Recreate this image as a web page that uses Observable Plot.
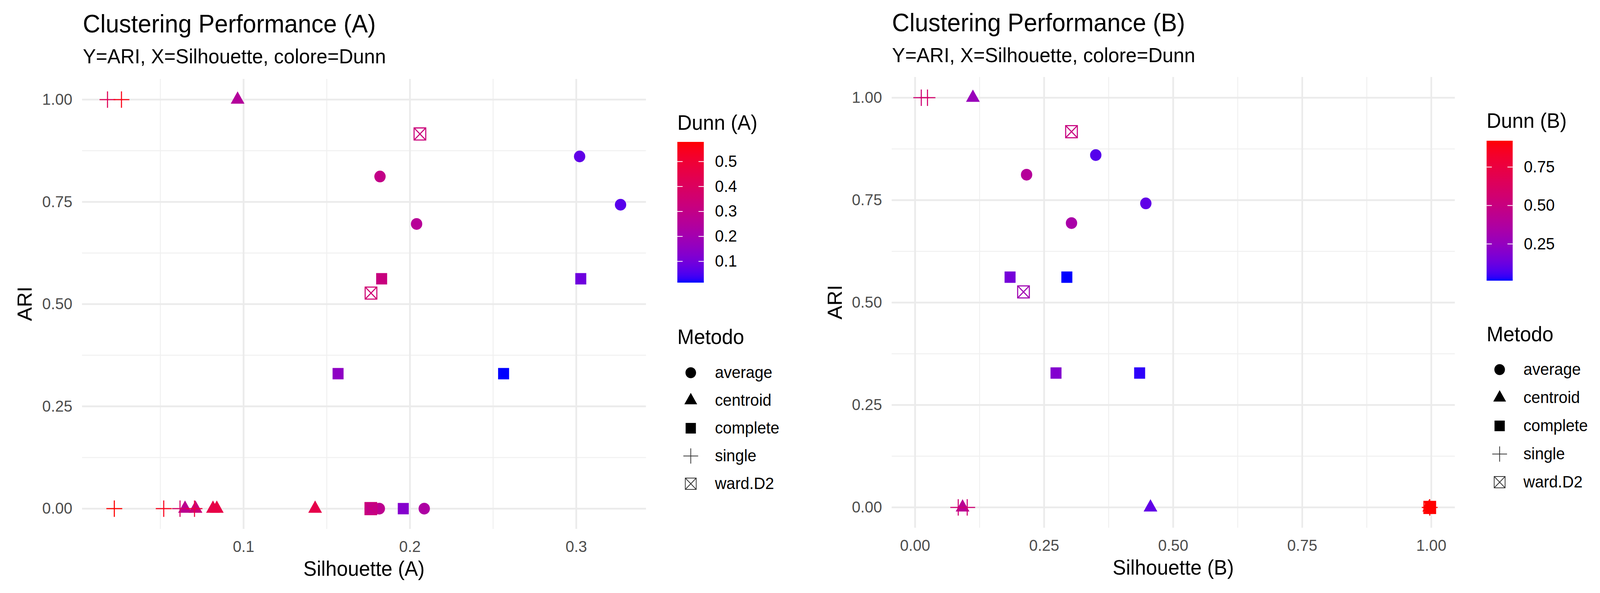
<!DOCTYPE html>
<html>
<head>
<meta charset="utf-8">
<script src="https://cdn.jsdelivr.net/npm/d3@7"></script>
<script src="https://cdn.jsdelivr.net/npm/@observablehq/plot@0.6"></script>
<style>
html, body { margin: 0; padding: 0; background: #ffffff; overflow: hidden; }
#root { position: absolute; left: 0; top: 0; width: 4233px; height: 1517px; overflow: hidden; background: #ffffff; transform-origin: 0 0; }
.abs { position: absolute; }
</style>
</head>
<body>
<div id="root"></div>
<script>
// ---------------- DATA ----------------
const methods = ["average", "centroid", "complete", "single", "ward.D2"];

// Panel A
const metodoA = ["average","average","average","average","average","average",
                 "centroid","centroid","centroid","centroid","centroid","centroid",
                 "complete","complete","complete","complete","complete","complete",
                 "single","single","single","single","single","single",
                 "ward.D2","ward.D2","ward.D2"];
const silA  = [0.182, 0.302, 0.3266, 0.204, 0.1816, 0.2086,
               0.0964, 0.0648, 0.0711, 0.0816, 0.0839, 0.143,
               0.183, 0.3027, 0.1568, 0.2563, 0.1765, 0.196,
               0.0182, 0.0266, 0.0223, 0.052, 0.0618, 0.0705,
               0.206, 0.1766, 0.1765];
const ariA  = [0.812, 0.861, 0.743, 0.696, 0, 0,
               1, 0, 0, 0, 0, 0,
               0.562, 0.562, 0.330, 0.330, 0, 0,
               1, 1, 0, 0, 0, 0,
               0.916, 0.527, 0];
const dunnA = [0.30, 0.07, 0.06, 0.26, 0.28, 0.23,
               0.25, 0.28, 0.33, 0.45, 0.46, 0.45,
               0.32, 0.09, 0.15, 0.014, 0.30, 0.13,
               0.42, 0.56, 0.578, 0.55, 0.38, 0.47,
               0.33, 0.35, 0.33];

// Panel B
const metodoB = ["average","average","average","average","average",
                 "centroid","centroid","centroid","centroid",
                 "complete","complete","complete","complete","complete",
                 "single","single","single","single","single",
                 "ward.D2","ward.D2","ward.D2"];
const silB  = [0.350, 0.216, 0.447, 0.303, 0.997,
               0.112, 0.092, 0.456, 0.996,
               0.184, 0.294, 0.273, 0.435, 0.998,
               0.012, 0.024, 0.0836, 0.101, 0.997,
               0.303, 0.210, 0.997];
const ariB  = [0.860, 0.812, 0.742, 0.694, 0,
               1, 0, 0, 0,
               0.562, 0.562, 0.328, 0.328, 0,
               1, 1, 0, 0, 0,
               0.917, 0.526, 0];
const dunnB = [0.08, 0.40, 0.10, 0.34, 0.92,
               0.27, 0.42, 0.10, 0.92,
               0.15, 0.01, 0.19, 0.03, 0.92,
               0.55, 0.58, 0.55, 0.55, 0.92,
               0.50, 0.30, 0.92];

// Ticks / labels
const xTicksA = [0.1, 0.2, 0.3];
const xMinorA = [0.05, 0.15, 0.25];
const xTicksB = [0, 0.25, 0.5, 0.75, 1];
const xMinorB = [0.125, 0.375, 0.625, 0.875];
const yTicks = [0, 0.25, 0.5, 0.75, 1];
const yMinor = [0.125, 0.375, 0.625, 0.875];
const dunnTicksA = [0.1, 0.2, 0.3, 0.4, 0.5];
const dunnTicksB = [0.25, 0.5, 0.75];

const titleA = "Clustering Performance (A)";
const titleB = "Clustering Performance (B)";
const subtitle = "Y=ARI, X=Silhouette, colore=Dunn";
const xLabelA = "Silhouette (A)";
const xLabelB = "Silhouette (B)";
const yLabel = "ARI";
const colorTitleA = "Dunn (A)";
const colorTitleB = "Dunn (B)";
const shapeTitle = "Metodo";

// ---------------- SYMBOLS ----------------
const FONT = '"Liberation Sans", Arial, Helvetica, sans-serif';
const rad = size => Math.sqrt(size / Math.PI);
const symCircle = { draw(ctx, size) { const r = rad(size); ctx.moveTo(r, 0); ctx.arc(0, 0, r, 0, 2 * Math.PI); } };
const symTriangle = { draw(ctx, size) { const r = rad(size); const h = 2.1 * r, w = h * 2 / Math.sqrt(3);
  ctx.moveTo(0, -2 * h / 3); ctx.lineTo(w / 2, h / 3); ctx.lineTo(-w / 2, h / 3); ctx.closePath(); } };
const symSquare = { draw(ctx, size) { const r = rad(size) * 0.97; ctx.rect(-r, -r, 2 * r, 2 * r); } };
const symPlus = { draw(ctx, size) { const r = rad(size) * 1.4; ctx.moveTo(-r, 0); ctx.lineTo(r, 0); ctx.moveTo(0, -r); ctx.lineTo(0, r); } };
const symBoxX = { draw(ctx, size) { const r = rad(size) * 1.03; ctx.rect(-r, -r, 2 * r, 2 * r);
  ctx.moveTo(-r, -r); ctx.lineTo(r, r); ctx.moveTo(r, -r); ctx.lineTo(-r, r); } };
const symbolRange = [symCircle, symTriangle, symSquare, symPlus, symBoxX];
const filledSet = new Set(["average", "centroid", "complete"]);

const root = document.getElementById("root");
function fit() {
  const sx = window.innerWidth / 4233, sy = window.innerHeight / 1517;
  if (sx > 0 && sy > 0) root.style.transform = `scale(${sx},${sy})`;
}
fit();
window.addEventListener("resize", fit);

function place(el, left, top, w, h) {
  const div = document.createElement("div");
  div.className = "abs";
  div.style.left = left + "px"; div.style.top = top + "px";
  if (w) div.style.width = w + "px";
  if (h) div.style.height = h + "px";
  div.appendChild(el);
  root.appendChild(div);
}
function svgOf(el) { return el.tagName.toLowerCase() === "svg" ? el : el.querySelector("svg"); }

function panel(cfg) {
  const data = cfg.metodo.map((m, i) => ({ metodo: m, sil: cfg.sil[i], ari: cfg.ari[i], dunn: cfg.dunn[i] }));
  const colorOpts = { type: "linear", domain: d3.extent(cfg.dunn), range: ["blue", "red"], interpolate: "lab" };
  const gridMajor = { stroke: "#ebebeb", strokeOpacity: 1, strokeWidth: 4.5 };
  const gridMinor = { stroke: "#f0f0f0", strokeOpacity: 1, strokeWidth: 2.5 };

  const chart = Plot.plot({
    width: cfg.w, height: 1517,
    marginLeft: cfg.ml, marginRight: cfg.mr, marginTop: cfg.mt, marginBottom: cfg.mb,
    style: { fontFamily: FONT, fontSize: "41px", color: "#4d4d4d", background: "transparent", overflow: "visible" },
    x: { domain: cfg.xDomain, ticks: cfg.xTicks, tickFormat: d3.format(cfg.xFmt), tickSize: 0, tickPadding: 29, label: null },
    y: { domain: [-0.05, 1.05], ticks: yTicks, tickFormat: d3.format(".2f"), tickSize: 0, tickPadding: 26, label: null },
    color: colorOpts,
    symbol: { domain: methods, range: symbolRange },
    marks: [
      Plot.ruleX(cfg.xMinor, gridMinor),
      Plot.ruleY(yMinor, gridMinor),
      Plot.ruleX(cfg.xTicks, gridMajor),
      Plot.ruleY(yTicks, gridMajor),
      Plot.dot(data.filter(d => filledSet.has(d.metodo)),
        { x: "sil", y: "ari", symbol: "metodo", fill: "dunn", stroke: "none", r: 15 }),
      Plot.dot(data.filter(d => !filledSet.has(d.metodo)),
        { x: "sil", y: "ari", symbol: "metodo", stroke: "dunn", fill: "none", r: 15, strokeWidth: 2.8 })
    ]
  });
  place(chart, cfg.left, 0, cfg.w, 1517);

  // colour bar
  const [dmin, dmax] = colorOpts.domain;
  const gid = "grad" + cfg.id;
  const bar = Plot.plot({
    width: 260, height: cfg.barH + 20,
    marginTop: 10, marginBottom: 10, marginLeft: 0, marginRight: 260 - cfg.barW,
    style: { fontFamily: FONT, fontSize: "42px", color: "#000000", background: "transparent", overflow: "visible" },
    x: { domain: [0, 1], axis: null },
    y: { domain: [dmin, dmax], axis: "right", ticks: cfg.dunnTicks, tickFormat: d3.format(cfg.dunnFmt), tickSize: 0, tickPadding: 29, label: null },
    marks: [
      Plot.rect([0], { x1: 0, x2: 1, y1: dmin, y2: dmax, fill: `url(#${gid})` }),
      Plot.ruleY(cfg.dunnTicks, { x1: 0, x2: 0.2, stroke: "white", strokeWidth: 2 }),
      Plot.ruleY(cfg.dunnTicks, { x1: 0.8, x2: 1, stroke: "white", strokeWidth: 2 })
    ]
  });
  const cscale = Plot.scale({ color: colorOpts });
  const grad = d3.select(svgOf(bar)).insert("defs", ":first-child").append("linearGradient")
    .attr("id", gid).attr("x1", 0).attr("y1", 1).attr("x2", 0).attr("y2", 0);
  d3.range(0, 41).forEach(i => {
    grad.append("stop").attr("offset", i / 40).attr("stop-color", cscale.apply(dmin + (dmax - dmin) * i / 40));
  });
  place(bar, cfg.barX, cfg.barY - 10, 260, cfg.barH + 20);

  // shape legend
  const leg = Plot.plot({
    width: 300, height: 400, margin: 0,
    style: { fontFamily: FONT, fontSize: "42px", color: "#000000", background: "transparent", overflow: "visible" },
    x: { type: "linear", domain: [0, 1], range: cfg.legX, axis: null },
    y: { type: "point", domain: methods, range: cfg.legY, padding: 0, axis: null },
    symbol: { domain: methods, range: symbolRange },
    marks: [
      Plot.dot(methods.filter(m => filledSet.has(m)), { x: 0, y: d => d, symbol: d => d, fill: "black", stroke: "none", r: 14 }),
      Plot.dot(methods.filter(m => !filledSet.has(m)), { x: 0, y: d => d, symbol: d => d, fill: "none", stroke: "#333333", strokeWidth: 2, r: 14 }),
      Plot.text(methods, { x: 1, y: d => d, text: d => d, textAnchor: "start", fill: "black", fontSize: 42 })
    ]
  });
  place(leg, cfg.legLeft, 900, 300, 400);
}

panel({ id: "A", metodo: metodoA, sil: silA, ari: ariA, dunn: dunnA,
  left: 0, w: 1750, ml: 217, mr: 41, mt: 202, mb: 164,
  xDomain: [0.003, 0.342], xTicks: xTicksA, xMinor: xMinorA, xFmt: ".1f",
  dunnTicks: dunnTicksA, dunnFmt: ".1f", barX: 1792, barY: 363, barW: 70, barH: 360,
  legLeft: 1792, legX: [35, 99], legY: [51, 338] });

panel({ id: "B", metodo: metodoB, sil: silB, ari: ariB, dunn: dunnB,
  left: 2150, w: 1750, ml: 209, mr: 51, mt: 197, mb: 167,
  xDomain: [-0.045, 1.046], xTicks: xTicksB, xMinor: xMinorB, xFmt: ".2f",
  dunnTicks: dunnTicksB, dunnFmt: ".2f", barX: 3933, barY: 360, barW: 69, barH: 358,
  legLeft: 3933, legX: [34, 97], legY: [44, 334] });

// ---------------- TEXT OVERLAY ----------------
const ov = d3.select("#root").append("svg")
  .attr("width", 4233).attr("height", 1517)
  .style("position", "absolute").style("left", "0px").style("top", "0px")
  .style("font-family", FONT);
function label(str, x, y, size, anchor = "start", rotate = false) {
  const t = ov.append("text").text(str).attr("font-size", size).attr("fill", "#000000").attr("text-anchor", anchor);
  if (rotate) t.attr("transform", `translate(${x},${y}) rotate(-90)`);
  else t.attr("x", x).attr("y", y);
}
label(titleA, 219, 83, 64);
label(subtitle, 219, 162, 52);
label(titleB, 2360, 80, 64);
label(subtitle, 2360, 159, 52);
label(xLabelA, 963, 1473, 53, "middle");
label(xLabelB, 3104, 1470, 53, "middle");
label(yLabel, 84, 777, 53, "middle", true);
label(yLabel, 2227, 773, 53, "middle", true);
label(colorTitleA, 1792, 332, 53);
label(colorTitleB, 3933, 327, 53);
label(shapeTitle, 1792, 880, 53);
label(shapeTitle, 3933, 873, 53);
</script>
</body>
</html>
